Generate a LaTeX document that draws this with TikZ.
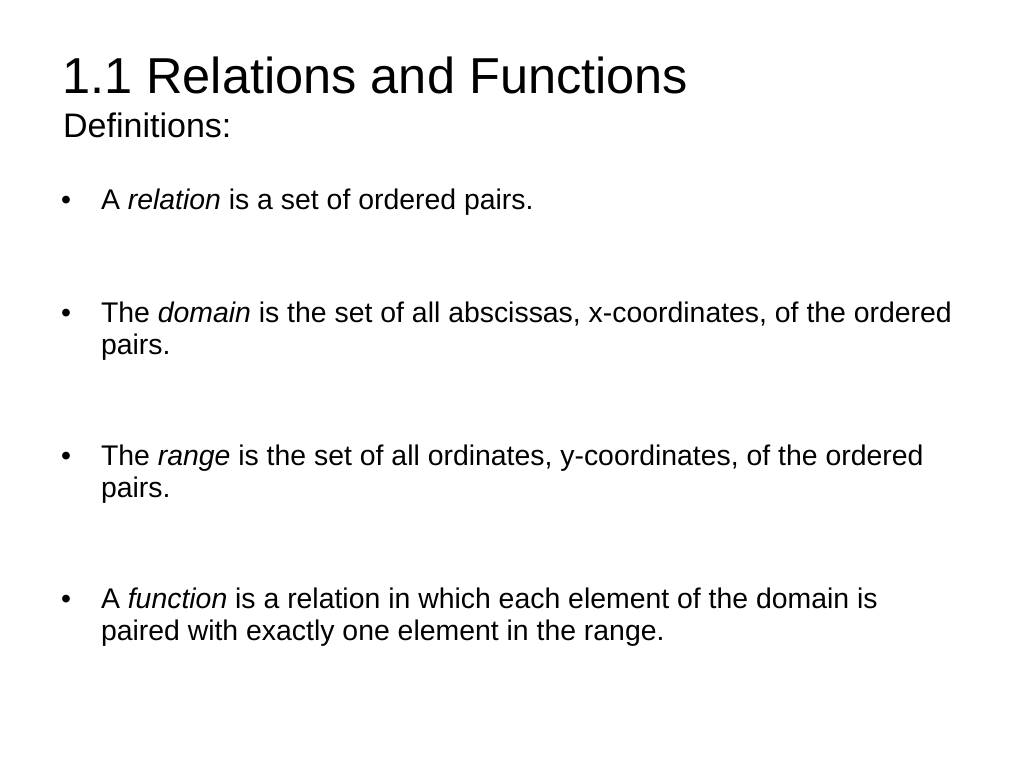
\documentclass[tikz,border=0pt]{standalone}
\usepackage{fontspec}
\setmainfont{Liberation Sans}
\begin{document}
\begin{tikzpicture}[x=1pt,y=-1pt,
  txt/.style={anchor=base west,inner sep=0pt,outer sep=0pt,font=\fontsize{28.4}{32}\selectfont},
  bul/.style={anchor=base west,inner sep=0pt,outer sep=0pt,font=\fontsize{28.4}{32}\selectfont}]
\useasboundingbox[fill=white] (0,0) rectangle (1024,768);
\node[anchor=base west,inner sep=0pt,font=\fontsize{50.5}{56}\selectfont] (title) at (62,93) {1.1 Relations and Functions};
\node[anchor=base west,inner sep=0pt,font=\fontsize{34}{40}\selectfont] (sub) at (63,137) {Definitions:};
\node[bul] (b1) at (61,209) {•};
\node[txt] (t1) at (101,209) {A \textit{relation} is a set of ordered pairs.};
\node[bul] (b2) at (61,322) {•};
\node[txt] (t2) at (101,322) {The \textit{domain} is the set of all abscissas, x-coordinates, of the ordered};
\node[txt] (t2b) at (101,354) {pairs.};
\node[bul] (b3) at (61,465) {•};
\node[txt] (t3) at (101,465) {The \textit{range} is the set of all ordinates, y-coordinates, of the ordered};
\node[txt] (t3b) at (101,497) {pairs.};
\node[bul] (b4) at (61,608) {•};
\node[txt] (t4) at (101,608) {A \textit{function} is a relation in which each element of the domain is};
\node[txt] (t4b) at (101,640) {paired with exactly one element in the range.};
\end{tikzpicture}
\end{document}
